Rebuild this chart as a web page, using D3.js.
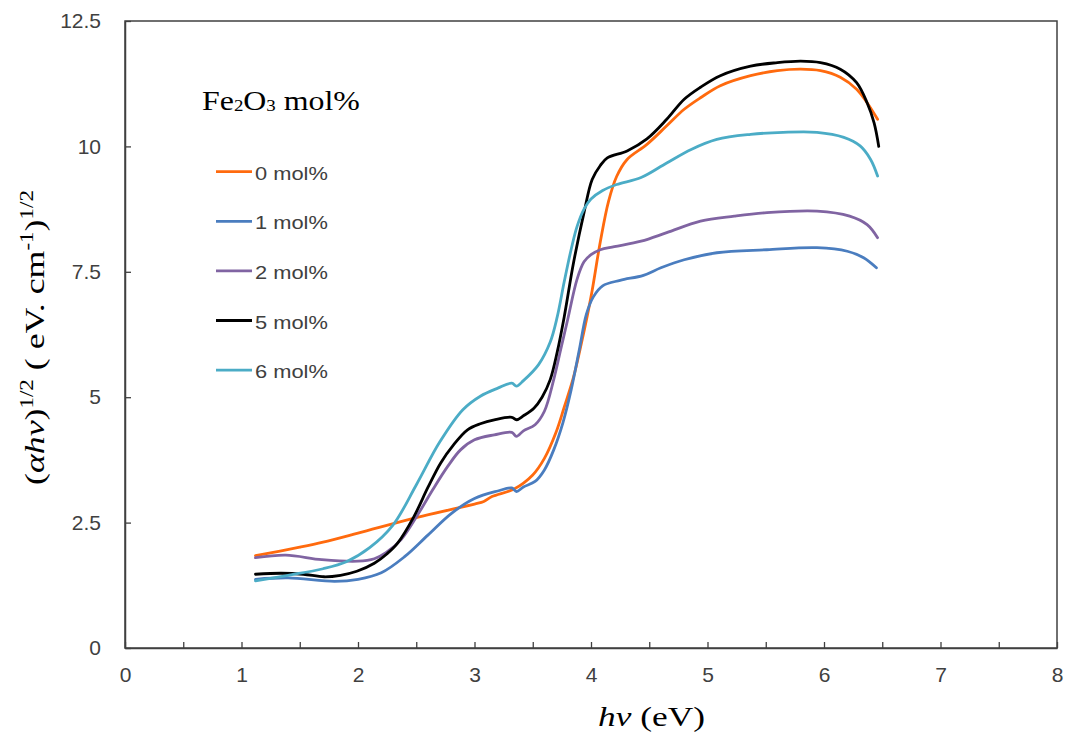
<!DOCTYPE html>
<html><head><meta charset="utf-8">
<script src="https://cdn.jsdelivr.net/npm/d3@7"></script>
<style>body{margin:0;background:#fff}</style>
</head><body><svg id="c" width="1068" height="732"></svg>
<script>
// ---- data ----
const seriesNames = ["0 mol%", "1 mol%", "2 mol%", "5 mol%", "6 mol%"];
const seriesColors = ["#FF6A0E", "#4A7DBF", "#8064A2", "#000000", "#4BACC6"];

const energy0 = [1.12,1.50,1.70,2.00,2.50,3.00,3.08,3.15,3.34,3.50,3.60,3.70,3.77,3.85,3.92,4.00,4.08,4.15,4.22,4.31,4.48,4.65,4.80,4.94,5.11,5.37,5.60,5.80,5.97,6.14,6.28,6.37,6.46];
const value0  = [1.84,2.01,2.11,2.29,2.60,2.87,2.92,3.02,3.17,3.45,3.78,4.30,4.80,5.40,6.10,7.00,8.10,8.90,9.40,9.74,10.04,10.41,10.74,10.97,11.21,11.41,11.51,11.54,11.51,11.38,11.14,10.87,10.54];

const energy1 = [1.12,1.40,1.80,2.00,2.20,2.40,2.60,2.80,3.00,3.20,3.32,3.36,3.42,3.52,3.60,3.68,3.76,3.83,3.90,3.96,4.02,4.10,4.25,4.45,4.60,4.80,5.08,5.51,5.94,6.20,6.34,6.45];
const value1  = [1.37,1.40,1.33,1.37,1.50,1.82,2.25,2.68,2.98,3.13,3.19,3.12,3.21,3.32,3.55,3.95,4.50,5.15,5.95,6.65,7.00,7.22,7.33,7.43,7.58,7.74,7.88,7.94,7.98,7.91,7.78,7.58];

const energy2 = [1.12,1.38,1.69,2.00,2.14,2.24,2.37,2.54,2.64,2.77,2.88,3.00,3.17,3.32,3.36,3.42,3.52,3.60,3.68,3.74,3.80,3.88,3.94,4.00,4.08,4.20,4.43,4.65,4.94,5.23,5.51,5.94,6.22,6.37,6.46];
const value2  = [1.80,1.85,1.76,1.73,1.78,1.90,2.16,2.76,3.15,3.62,3.95,4.15,4.25,4.30,4.22,4.33,4.45,4.72,5.35,5.95,6.55,7.35,7.70,7.84,7.94,8.00,8.11,8.28,8.51,8.61,8.68,8.71,8.61,8.44,8.18];

const energy5 = [1.12,1.34,1.53,1.71,1.85,1.99,2.14,2.25,2.34,2.48,2.60,2.71,2.82,2.94,3.05,3.17,3.32,3.36,3.42,3.51,3.58,3.65,3.71,3.77,3.85,3.94,4.01,4.08,4.14,4.31,4.48,4.65,4.80,4.94,5.11,5.37,5.60,5.80,5.97,6.14,6.28,6.37,6.43,6.47];
const value5  = [1.47,1.49,1.47,1.42,1.45,1.53,1.69,1.88,2.09,2.62,3.20,3.69,4.05,4.35,4.47,4.55,4.60,4.55,4.63,4.78,5.00,5.35,5.90,6.60,7.68,8.68,9.34,9.62,9.77,9.91,10.15,10.54,10.94,11.18,11.41,11.60,11.67,11.70,11.67,11.54,11.27,10.87,10.47,10.00];

const energy6 = [1.12,1.40,1.70,1.90,2.10,2.30,2.50,2.70,2.90,3.05,3.20,3.32,3.36,3.42,3.55,3.65,3.71,3.77,3.83,3.88,3.94,4.00,4.10,4.22,4.43,4.65,4.86,5.08,5.37,5.65,5.94,6.17,6.31,6.40,6.46];
const value6  = [1.34,1.45,1.58,1.72,2.00,2.45,3.25,4.10,4.75,5.02,5.18,5.28,5.22,5.33,5.65,6.10,6.60,7.30,7.95,8.40,8.75,8.95,9.12,9.24,9.38,9.67,9.94,10.14,10.24,10.28,10.28,10.18,10.01,9.74,9.41];

const xTickValues = [0,1,2,3,4,5,6,7,8];
const xMinorTicks = [0.5,1.5,2.5,3.5,4.5,5.5,6.5,7.5];
const yTickValues = [0,2.5,5,7.5,10,12.5];

const allEnergy = [energy0, energy1, energy2, energy5, energy6];
const allValues = [value0, value1, value2, value5, value6];

// ---- layout ----
const L = 125, R = 1057, T = 21, B = 648;
const svg = d3.select("#c");
const x = d3.scaleLinear().domain([0, 8]).range([L, R]);
const y = d3.scaleLinear().domain([0, 12.5]).range([B, T]);

const axisColor = "#404040";
const sans = "'Liberation Sans', Arial, sans-serif";
const serif = "'Liberation Serif', 'Times New Roman', serif";

function fit(sel, target) {
  sel.each(function () {
    const w = this.getBBox().width;
    const s = target / w;
    const t = d3.select(this).attr("transform") || "";
    d3.select(this).attr("transform", t + ` scale(${s},1)`);
  });
}

// frame
svg.append("rect").attr("x", L).attr("y", T).attr("width", R - L).attr("height", B - T)
  .attr("fill", "none").attr("stroke", axisColor).attr("stroke-width", 1.5);

// x axis
const xAxis = svg.append("g").attr("transform", `translate(0,${B})`)
  .call(d3.axisBottom(x).tickValues(xTickValues).tickSizeInner(-6).tickSizeOuter(0).tickPadding(30).tickFormat(d3.format("d")));
svg.append("g").attr("transform", `translate(0,${B})`)
  .call(d3.axisBottom(x).tickValues(xMinorTicks).tickSizeInner(-6).tickSizeOuter(0).tickFormat(""))
  .call(g => g.select(".domain").remove());

// y axis
const yAxis = svg.append("g").attr("transform", `translate(${L},0)`)
  .call(d3.axisLeft(y).tickValues(yTickValues).tickSizeInner(-6).tickSizeOuter(0).tickPadding(24).tickFormat(d => String(d)));

svg.selectAll(".domain").attr("stroke", axisColor).attr("stroke-width", 1.5);
svg.selectAll(".tick line").attr("stroke", axisColor).attr("stroke-width", 1.3);
svg.selectAll(".tick text").attr("font-family", sans).attr("font-size", 21).attr("fill", "#404040");
xAxis.selectAll(".tick text").attr("dy", "0.2em");

// series
const line = d3.line().x(d => x(d[0])).y(d => y(d[1])).curve(d3.curveCatmullRom.alpha(0.5));
seriesNames.forEach((name, i) => {
  const pts = allEnergy[i].map((e, j) => [e, allValues[i][j]]);
  svg.append("path").datum(pts).attr("d", line).attr("fill", "none")
    .attr("stroke", seriesColors[i]).attr("stroke-width", 2.8)
    .attr("stroke-linejoin", "round").attr("stroke-linecap", "round");
});

// legend
const lg = svg.append("g");
const title = lg.append("text").attr("transform", "translate(202,110)")
  .attr("font-family", serif).attr("font-size", 27).attr("fill", "#000");
title.append("tspan").text("Fe");
title.append("tspan").attr("font-size", 16).attr("dy", 1).text("2");
title.append("tspan").attr("dy", -1).text("O");
title.append("tspan").attr("font-size", 16).attr("dy", 1).text("3");
title.append("tspan").attr("dy", -1).text(" mol%");
fit(title, 158);

seriesNames.forEach((name, i) => {
  const yy = 171.7 + i * 49.6;
  lg.append("line").attr("x1", 216).attr("x2", 252).attr("y1", yy).attr("y2", yy)
    .attr("stroke", seriesColors[i]).attr("stroke-width", 2.8);
  const t = lg.append("text").attr("transform", `translate(255,${yy + 8})`)
    .attr("font-family", sans).attr("font-size", 19).attr("fill", "#404040").text(name);
  fit(t, 73);
});

// x axis title
const xt = svg.append("text").attr("transform", "translate(598,726)")
  .attr("font-family", serif).attr("font-size", 28).attr("fill", "#000");
xt.append("tspan").attr("font-style", "italic").text("hv");
xt.append("tspan").text(" (eV)");
fit(xt, 107);

// y axis title
const yt = svg.append("text").attr("transform", "translate(44,337.5) rotate(-90)")
  .attr("text-anchor", "middle").attr("font-family", serif).attr("font-size", 28).attr("fill", "#000");
yt.append("tspan").text("(");
yt.append("tspan").attr("font-style", "italic").text("αhv");
yt.append("tspan").text(")");
yt.append("tspan").attr("font-size", 18).attr("dy", -11).text("1/2");
yt.append("tspan").attr("dy", 11).text(" ( eV. cm");
yt.append("tspan").attr("font-size", 18).attr("dy", -11).text("-1");
yt.append("tspan").attr("dy", 11).text(")");
yt.append("tspan").attr("font-size", 18).attr("dy", -11).text("1/2");
fit(yt, 295);
</script></body></html>
